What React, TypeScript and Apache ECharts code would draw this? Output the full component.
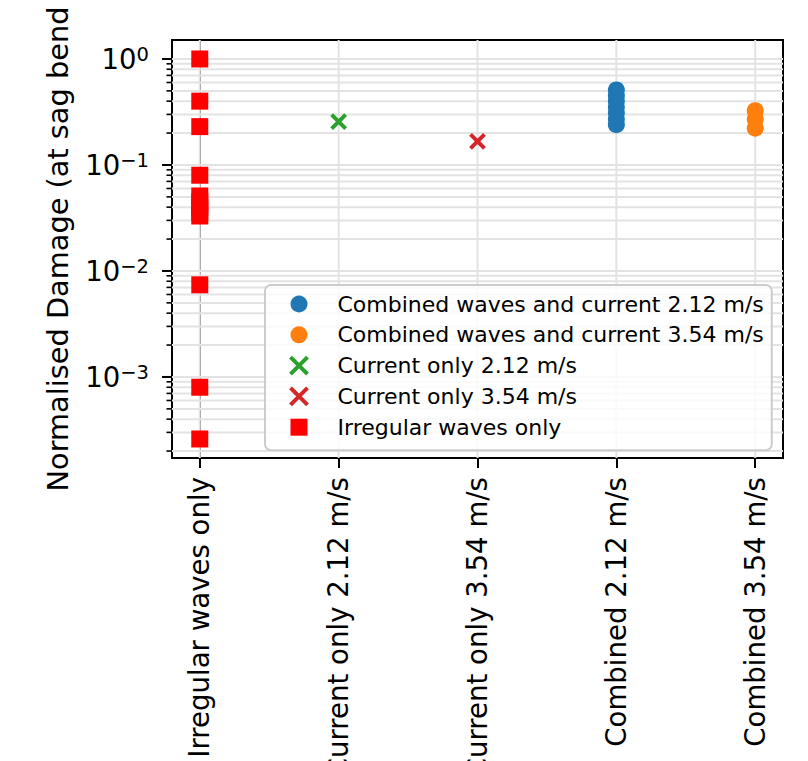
import React, { useEffect, useRef } from "react";
import * as echarts from "echarts";

const categories = [
  "Irregular waves only",
  "Current only 2.12 m/s",
  "Current only 3.54 m/s",
  "Combined 2.12 m/s",
  "Combined 3.54 m/s",
];

const irregularWaves = [1.0, 0.4, 0.23, 0.08, 0.051, 0.045, 0.04, 0.036, 0.033, 0.0074, 0.0008, 0.00026];
const currentOnly212 = [0.256];
const currentOnly354 = [0.167];
const combined212 = [0.51, 0.45, 0.4, 0.35, 0.31, 0.27, 0.24];
const combined354 = [0.325, 0.27, 0.222];

const majorTicks = [0.001, 0.01, 0.1, 1];
const minorTicks = [
  2e-4, 3e-4, 4e-4, 5e-4, 6e-4, 7e-4, 8e-4, 9e-4,
  2e-3, 3e-3, 4e-3, 5e-3, 6e-3, 7e-3, 8e-3, 9e-3,
  2e-2, 3e-2, 4e-2, 5e-2, 6e-2, 7e-2, 8e-2, 9e-2,
  2e-1, 3e-1, 4e-1, 5e-1, 6e-1, 7e-1, 8e-1, 9e-1,
];
const yMin = 1.72e-4;
const yMax = 1.51;

const legendOrder = [
  "Combined waves and current 2.12 m/s",
  "Combined waves and current 3.54 m/s",
  "Current only 2.12 m/s",
  "Current only 3.54 m/s",
  "Irregular waves only",
];

const FONT = "DejaVu Sans";
const GRID_COLOR = "#e3e3e3";
const X_PATH = "path://M0 0L10 10M10 0L0 10";

export default function App() {
  const ref = useRef<HTMLDivElement>(null);
  useEffect(() => {
    document.body.style.margin = "0";
    const chart = echarts.init(ref.current!, null, { renderer: "svg" });
    const toPts = (x: number, arr: number[]) => arr.map((v) => [x, v]);
    const hTicks = [
      ...majorTicks.map((v) => [0, v, 1]),
      ...minorTicks.map((v) => [0, v, 0]),
    ];
    const vTicks = categories.map((_, i) => [i, 1]);
    const option: any = {
      animation: false,
      backgroundColor: "#fff",
      textStyle: { fontFamily: FONT },
      grid: {
        left: 172,
        top: 40,
        width: 611,
        height: 418,
        show: true,
        borderColor: "#000",
        borderWidth: 2,
        backgroundColor: "transparent",
        containLabel: false,
        outerBoundsMode: "none",
      },
      xAxis: {
        type: "value",
        min: -0.2,
        max: 4.2,
        axisLine: { show: true, lineStyle: { color: "#000", width: 2 } },
        axisTick: { show: true, length: 10, lineStyle: { color: "#000", width: 2 }, customValues: [0, 1, 2, 3, 4] },
        splitLine: { show: false },
        axisLabel: {
          customValues: [0, 1, 2, 3, 4],
          rotate: 90,
          margin: 19,
          fontSize: 27.6,
          fontFamily: FONT,
          color: "#000",
          formatter: (v: number) => categories[Math.round(v)] ?? "",
        },
      },
      yAxis: {
        type: "log",
        logBase: 10,
        min: yMin,
        max: yMax,
        name: "Normalised Damage (at sag bend",
        nameLocation: "middle",
        nameGap: 100,
        nameTextStyle: { fontSize: 28.8, fontFamily: FONT, color: "#000" },
        axisLine: { show: true, lineStyle: { color: "#000", width: 2 } },
        axisTick: { show: false },
        splitLine: { show: false },
        minorTick: { show: false },
        axisLabel: {
          margin: 23,
          color: "#000",
          formatter: (value: number) => {
            const e = Math.log10(value);
            const r = Math.round(e);
            if (Math.abs(e - r) > 1e-6) return "";
            const s = r < 0 ? "\u2212" + -r : String(r);
            return `{b|10}{s|${s}}`;
          },
          rich: {
            b: { fontSize: 27.5, fontFamily: FONT, color: "#000", lineHeight: 28 },
            s: { fontSize: 19.5, fontFamily: FONT, color: "#000", lineHeight: 12, verticalAlign: "top" },
          },
        },
      },
      legend: {
        data: [
          { name: legendOrder[0] },
          { name: legendOrder[1] },
          { name: legendOrder[2], itemStyle: { borderWidth: 4 } },
          { name: legendOrder[3], itemStyle: { borderWidth: 4 } },
          { name: legendOrder[4] },
        ],
        orient: "vertical",
        left: 265,
        top: 285,
        itemWidth: 17,
        itemHeight: 17,
        itemGap: 8.8,
        padding: [8, 8, 12, 23],
        backgroundColor: "rgba(255,255,255,0.8)",
        borderColor: "#cccccc",
        borderWidth: 2,
        borderRadius: 6,
        textStyle: { fontSize: 22, fontFamily: FONT, color: "#000", lineHeight: 22, padding: [0, 0, 0, 25] },
      },
      series: [
        {
          type: "custom",
          name: "hgrid",
          z: 1,
          clip: false,
          silent: true,
          data: hTicks,
          encode: { x: 0, y: 1 },
          renderItem: (params: any, api: any) => {
            const v = api.value(1);
            const major = api.value(2) === 1;
            const p = api.coord([0, v]);
            const cs = params.coordSys;
            const y = p[1];
            const len = major ? 10 : 5.5;
            return {
              type: "group",
              children: [
                { type: "line", shape: { x1: cs.x, y1: y, x2: cs.x + cs.width, y2: y }, style: { stroke: GRID_COLOR, lineWidth: 2 } },
                { type: "line", shape: { x1: cs.x - len, y1: y, x2: cs.x, y2: y }, style: { stroke: "#000", lineWidth: major ? 2 : 1.6 } },
              ],
            };
          },
        },
        {
          type: "custom",
          name: "vgrid",
          z: 1,
          clip: false,
          silent: true,
          data: vTicks,
          encode: { x: 0, y: 1 },
          renderItem: (params: any, api: any) => {
            const p = api.coord([api.value(0), 1]);
            const cs = params.coordSys;
            return {
              type: "line",
              shape: { x1: p[0], y1: cs.y, x2: p[0], y2: cs.y + cs.height },
              style: { stroke: GRID_COLOR, lineWidth: 2 },
            };
          },
        },
        {
          type: "scatter",
          name: "Combined waves and current 2.12 m/s",
          z: 3,
          symbol: "circle",
          symbolSize: 17,
          itemStyle: { color: "#1f77b4", opacity: 1 },
          data: toPts(3, combined212),
        },
        {
          type: "scatter",
          name: "Combined waves and current 3.54 m/s",
          z: 3,
          symbol: "circle",
          symbolSize: 17,
          itemStyle: { color: "#ff7f0e", opacity: 1 },
          data: toPts(4, combined354),
        },
        {
          type: "scatter",
          name: "Current only 2.12 m/s",
          z: 3,
          symbol: X_PATH,
          symbolSize: 14,
          itemStyle: { color: "none", borderColor: "#2ca02c", borderWidth: 4, opacity: 1 },
          data: toPts(1, currentOnly212),
        },
        {
          type: "scatter",
          name: "Current only 3.54 m/s",
          z: 3,
          symbol: X_PATH,
          symbolSize: 14,
          itemStyle: { color: "none", borderColor: "#d62728", borderWidth: 4, opacity: 1 },
          data: toPts(2, currentOnly354),
        },
        {
          type: "scatter",
          name: "Irregular waves only",
          z: 3,
          symbol: "rect",
          symbolSize: 17,
          itemStyle: { color: "#ff0000", opacity: 1 },
          data: toPts(0, irregularWaves),
        },
      ],
    };
    chart.setOption(option);
    return () => chart.dispose();
  }, []);
  return <div ref={ref} style={{ width: 808, height: 761 }} />;
}
